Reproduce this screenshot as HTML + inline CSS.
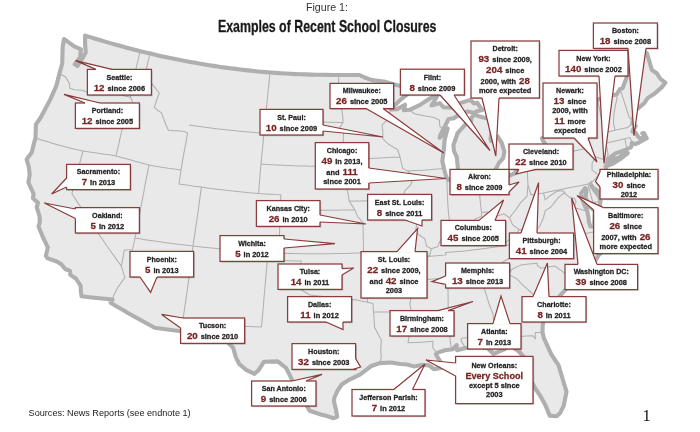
<!DOCTYPE html>
<html><head><meta charset="utf-8"><title>Figure 1</title>
<style>html,body{margin:0;padding:0;background:#fff}svg{display:block}</style></head>
<body>
<svg width="700" height="432" viewBox="0 0 700 432" font-family="Liberation Sans, sans-serif" font-weight="bold">
<defs><filter id="soft" x="0" y="0" width="700" height="432" filterUnits="userSpaceOnUse"><feGaussianBlur stdDeviation="0.35"/></filter></defs>
<rect width="700" height="432" fill="#fff"/>
<g filter="url(#soft)">
<path d="M85.0,35.5 L90.1,37.1 L95.4,38.7 L100.6,40.3 L105.9,41.9 L111.2,43.4 L116.0,44.8 L120.9,46.1 L125.8,47.4 L130.7,48.7 L135.6,50.0 L140.5,51.2 L145.5,52.4 L150.4,53.6 L155.4,54.8 L160.3,55.9 L165.3,57.0 L170.2,58.0 L175.2,59.1 L180.2,60.1 L185.2,61.0 L190.2,61.9 L195.2,62.8 L200.2,63.7 L205.2,64.5 L210.2,65.4 L215.3,66.1 L220.3,66.9 L225.3,67.6 L230.3,68.2 L235.4,68.9 L240.4,69.5 L245.4,70.1 L250.4,70.6 L255.5,71.2 L260.5,71.7 L265.5,72.1 L270.5,72.5 L275.5,72.9 L280.5,73.2 L285.5,73.5 L290.5,73.8 L295.5,74.1 L300.5,74.3 L305.5,74.4 L310.5,74.6 L315.5,74.7 L320.5,74.8 L326.5,74.9 L332.6,75.0 L338.6,75.0 L343.8,75.0 L349.0,75.0 L354.2,75.0 L359.4,75.0 L364.0,77.2 L372.1,80.1 L377.3,80.7 L385.7,81.9 L391.5,83.6 L397.3,85.2 L405.4,87.0 L411.6,87.3 L417.9,87.5 L410.4,92.0 L400.6,99.6 L395.6,104.5 L390.6,108.7 L391.7,109.4 L397.2,109.1 L405.0,104.7 L403.9,110.2 L409.5,109.8 L419.6,105.1 L429.4,98.8 L438.1,94.0 L436.1,98.1 L433.0,103.0 L431.5,105.5 L439.8,103.1 L443.5,107.2 L452.1,107.7 L460.1,103.1 L470.4,99.9 L474.1,103.4 L477.4,102.8 L480.9,108.3 L482.2,110.0 L476.2,111.5 L474.4,113.1 L467.8,111.5 L460.1,114.2 L453.7,118.3 L448.6,119.0 L446.1,124.0 L443.1,129.7 L440.5,134.6 L439.6,137.8 L444.0,133.5 L447.7,128.4 L446.3,133.2 L444.6,140.3 L443.8,150.2 L442.3,160.8 L444.0,168.5 L446.2,176.9 L447.9,179.4 L449.7,179.9 L453.3,178.9 L455.7,177.2 L456.8,172.4 L457.9,168.1 L456.7,156.8 L454.0,151.2 L453.4,145.3 L455.7,138.8 L457.5,133.2 L461.6,128.7 L464.7,125.1 L468.4,123.0 L471.1,121.0 L471.3,117.8 L474.5,114.5 L477.8,115.9 L484.3,117.7 L488.8,118.4 L490.6,123.4 L492.3,129.2 L491.2,134.9 L490.5,138.9 L491.2,141.1 L495.5,137.8 L497.6,136.3 L501.6,142.7 L504.4,151.6 L503.2,158.1 L498.9,162.9 L496.9,167.1 L495.3,169.7 L493.6,173.7 L498.9,174.5 L502.4,176.3 L506.9,176.5 L513.7,173.9 L518.7,168.7 L527.4,162.9 L532.3,158.3 L536.1,154.4 L542.1,149.0 L545.1,145.2 L544.8,143.2 L542.6,140.3 L542.0,138.0 L548.0,135.0 L557.9,134.1 L562.3,134.0 L567.4,131.4 L569.2,129.4 L571.9,126.7 L571.4,121.5 L568.8,119.7 L572.7,115.2 L576.3,109.1 L582.6,103.2 L589.9,101.4 L597.3,99.6 L603.8,97.9 L610.3,96.1 L616.8,94.3 L620.1,88.9 L622.6,88.2 L626.5,77.7 L626.6,69.9 L625.9,65.4 L630.8,52.1 L635.1,54.8 L640.5,50.8 L646.9,53.2 L649.4,61.6 L651.9,70.0 L656.7,73.2 L660.1,78.5 L665.4,82.8 L661.7,87.4 L654.4,93.7 L647.6,98.1 L644.4,103.0 L641.6,105.4 L635.5,110.4 L633.6,116.4 L633.0,120.5 L632.4,123.4 L635.7,126.0 L633.5,128.9 L632.5,131.6 L635.8,133.0 L637.9,136.4 L640.2,138.6 L645.6,136.6 L642.3,133.2 L644.0,133.1 L646.7,138.3 L639.4,142.3 L635.2,144.2 L631.8,142.8 L631.5,146.1 L630.7,147.5 L626.9,149.2 L623.2,150.6 L615.5,153.4 L608.0,159.2 L607.0,162.6 L611.2,160.0 L620.0,157.0 L623.2,153.0 L627.8,153.1 L621.4,158.2 L613.2,163.5 L606.7,166.2 L605.5,166.2 L605.9,168.1 L606.9,175.3 L605.2,186.0 L600.4,193.7 L597.0,190.2 L592.1,187.4 L591.1,185.2 L593.8,189.4 L598.9,196.1 L600.6,201.2 L598.8,210.1 L594.2,223.5 L594.7,211.0 L588.6,205.9 L585.6,197.2 L586.5,189.3 L585.0,188.1 L581.1,193.5 L582.3,199.4 L585.1,206.6 L587.2,210.8 L588.4,216.8 L588.9,222.1 L590.4,226.5 L594.2,226.6 L596.9,231.4 L603.1,241.7 L605.0,249.8 L598.8,255.0 L594.5,262.2 L588.8,262.5 L580.2,271.3 L579.3,277.0 L571.8,278.4 L565.4,289.9 L557.6,298.3 L551.9,303.2 L546.5,311.1 L542.7,324.8 L542.5,332.4 L544.0,338.4 L547.7,346.3 L551.3,354.3 L558.5,365.2 L562.8,379.5 L566.5,391.7 L563.8,405.3 L560.2,413.0 L556.5,416.2 L549.7,415.6 L545.3,404.9 L540.7,396.5 L535.7,389.1 L531.0,380.7 L528.1,375.2 L528.6,370.8 L524.9,358.1 L518.9,351.5 L510.2,345.4 L505.2,348.8 L493.6,354.0 L487.7,348.2 L476.8,346.0 L470.2,347.3 L463.6,348.6 L457.1,350.2 L456.6,345.0 L453.0,349.2 L445.0,350.2 L438.5,352.4 L435.9,354.1 L437.5,357.0 L440.5,361.9 L441.5,367.8 L434.2,369.2 L428.6,365.3 L421.8,365.1 L413.8,366.4 L407.0,364.5 L400.3,364.0 L390.9,362.5 L379.7,363.1 L371.3,366.0 L367.5,368.9 L359.9,374.6 L349.5,379.6 L341.7,384.5 L337.7,390.3 L334.4,397.5 L334.0,401.7 L335.8,408.9 L337.1,416.1 L337.1,416.8 L333.6,418.2 L325.2,415.5 L321.6,414.8 L309.6,410.8 L304.9,402.2 L304.4,395.0 L294.9,385.0 L291.0,377.7 L286.1,368.0 L277.7,361.4 L270.9,361.6 L264.1,361.7 L258.4,370.4 L254.5,373.8 L246.1,369.9 L239.2,364.0 L235.7,356.9 L233.0,347.4 L225.9,340.7 L221.4,334.1 L215.2,327.7 L207.8,327.1 L200.4,326.4 L193.1,325.6 L192.0,332.4 L184.5,331.6 L177.0,330.7 L169.5,329.7 L162.1,328.8 L154.7,327.8 L148.3,324.3 L141.9,320.8 L135.5,317.2 L129.2,313.7 L123.0,310.1 L116.8,306.4 L110.6,302.7 L112.5,299.6 L104.8,298.8 L97.0,298.0 L89.3,297.2 L81.5,296.3 L80.9,291.2 L80.6,285.7 L75.9,278.5 L70.3,274.9 L70.0,270.9 L65.2,269.0 L61.3,264.2 L56.8,261.5 L47.8,258.4 L45.9,255.9 L47.8,247.4 L43.4,238.2 L38.5,226.5 L39.8,222.1 L39.6,216.5 L36.7,207.1 L38.0,202.8 L33.0,198.2 L33.6,193.8 L28.4,182.5 L29.7,174.6 L28.8,166.8 L26.6,159.4 L31.7,152.5 L34.4,141.6 L35.5,138.0 L35.9,124.4 L40.7,117.5 L45.5,108.5 L50.3,99.4 L56.3,85.9 L59.3,73.9 L62.2,63.7 L62.4,56.9 L62.7,46.7 L64.0,39.0 L69.1,42.6 L74.2,46.3 L81.0,49.3 L80.1,57.4 L74.8,64.3 L77.5,66.0 L82.5,58.2 L85.7,52.4 L85.1,43.9 L85.0,35.5Z" fill="#e9e9e9" stroke="#afafaf" stroke-width="4.1" stroke-linejoin="round"/>
<path d="M59.8,74.1 L65.4,76.7 L69.7,84.0 L69.5,88.2 L74.6,89.7 L82.2,90.2 L90.2,93.2 L96.4,92.7 L102.6,92.2 L109.1,92.2 L114.5,93.5 L119.9,94.8 L125.2,96.1 L130.6,97.3 M140.2,51.2 L138.3,59.0 L136.4,66.9 L134.6,74.8 L132.7,82.7 L130.9,90.6 L130.6,97.3 M130.6,97.3 L133.6,104.4 L127.9,112.7 L122.5,119.3 L124.0,125.1 L121.9,130.1 L119.9,138.8 L118.0,147.4 L116.0,156.0 M35.5,138.0 L41.6,140.0 L47.8,141.8 L54.0,143.7 L60.3,145.5 L66.0,147.0 L71.7,148.5 L77.3,149.8 L83.0,151.0 L89.6,152.1 L96.3,153.0 L102.8,153.9 L109.4,154.8 L116.0,156.0 L122.6,157.7 L129.3,159.5 L135.9,161.5 L142.5,163.3 L149.0,165.0 L155.4,166.3 L161.8,167.3 L168.2,168.3 L174.6,169.1 L181.0,170.0 M83.0,151.0 L81.1,158.2 L79.2,165.3 L77.4,172.4 L75.5,179.5 L73.7,186.6 L71.9,193.7 L76.6,200.9 L81.4,208.2 L86.3,215.5 L91.2,222.9 L96.1,230.2 L101.1,237.5 L106.1,244.8 L111.2,252.0 L116.3,259.1 L121.4,266.2 M149.0,165.0 L147.6,172.1 L146.2,179.2 L144.8,186.4 L143.5,193.6 L142.1,200.9 L140.7,208.2 L139.3,215.7 L137.9,223.1 L136.5,230.6 L135.0,238.0 L132.5,249.8 L124.3,249.9 L122.9,258.1 L121.4,266.2 M121.4,266.2 L124.9,277.6 L118.0,287.1 L113.7,295.5 L112.5,299.6 M135.0,238.0 L140.9,239.0 L146.7,239.9 L152.6,240.8 L158.4,241.6 L164.2,242.4 L170.1,243.2 L177.6,244.2 L185.3,245.1 L193.0,246.0 L199.2,246.7 L205.5,247.4 L211.8,248.0 L218.2,248.7 L224.5,249.3 L230.9,249.8 L237.2,250.4 L243.4,250.8 L249.6,251.3 L255.8,251.7 L261.9,252.1 L267.9,252.5 L279.0,253.0 L284.6,253.2 L290.1,253.4 L295.6,253.6 L301.1,253.7 L306.7,253.8 L312.5,253.8 L318.1,253.8 L323.9,253.8 L329.6,253.7 L335.4,253.6 L341.3,253.5 L347.2,253.4 L355.3,253.1 L363.6,252.8 M181.0,170.0 L180.0,177.0 L179.0,184.0 L184.5,184.8 L190.1,185.6 L195.7,186.4 L201.4,187.1 M201.4,187.1 L200.4,194.4 L199.4,201.6 L198.4,209.0 L197.4,216.3 L196.3,223.7 L195.2,231.1 L194.1,238.6 L193.0,246.0 L192.0,253.7 L191.0,261.4 L190.1,269.1 L189.1,276.9 L188.0,284.6 L187.0,292.3 L185.8,300.1 L184.7,307.9 L183.5,315.6 L182.2,323.4 L181.0,331.2 M149.9,53.5 L148.2,61.1 L146.4,68.8 L148.9,74.2 L147.4,78.7 L154.3,86.6 L159.3,93.3 L157.2,98.5 L154.3,107.5 L158.5,110.8 L161.4,112.9 L165.7,124.2 L168.4,130.3 L175.7,130.8 L183.0,131.2 L187.6,132.7 M187.6,132.7 L186.3,140.3 L184.9,147.9 L183.5,155.4 L182.2,162.8 L181.0,170.0 M189.0,125.0 L194.4,125.8 L199.8,126.6 L205.2,127.3 L210.7,128.0 L216.1,128.7 L221.6,129.3 L227.6,130.0 L233.7,130.6 L239.8,131.2 L245.9,131.8 L251.9,132.3 L258.0,132.7 L264.0,133.2 M270.0,72.5 L269.2,80.1 L268.5,87.7 L267.7,95.3 L267.0,102.8 L266.2,110.4 L265.5,118.0 L264.7,125.6 L264.0,133.2 L263.2,140.9 L262.5,148.7 L261.7,156.4 L261.0,164.0 L260.3,171.5 L259.7,178.9 L259.1,186.2 L258.6,193.5 M201.4,187.1 L207.2,187.9 L213.0,188.7 L218.9,189.4 L224.7,190.1 L230.6,190.8 L237.6,191.5 L244.7,192.2 L251.7,192.9 L258.6,193.5 L264.2,193.9 L269.8,194.2 L275.4,194.6 L280.9,194.8 M280.9,194.8 L280.6,202.1 L280.3,209.4 L280.0,216.6 L279.8,223.9 L279.6,231.2 L279.4,238.4 L279.3,245.7 L279.0,253.0 M280.3,209.4 L285.9,209.6 L291.5,209.8 L297.1,210.0 L302.6,210.1 L308.1,210.2 L313.7,210.3 L319.1,210.3 L324.6,210.3 L330.1,210.3 L335.6,210.2 L341.9,210.1 L348.3,209.9 L354.7,209.7 M267.9,252.5 L267.4,259.8 L266.7,267.1 L266.1,274.5 L265.4,281.9 L264.8,289.3 L264.1,296.8 L263.5,304.3 L262.9,311.8 L262.2,319.4 L261.4,327.0 L254.8,326.8 L248.1,326.5 L241.4,326.1 L234.7,325.7 L227.9,325.3 L221.2,324.8 L214.5,324.3 L215.2,327.7 M267.4,259.8 L273.3,260.1 L279.1,260.3 L284.7,260.6 L290.1,260.7 L295.5,260.9 L301.0,261.0 L300.8,270.5 L300.7,280.0 L300.6,289.5 L309.9,295.0 L316.4,295.7 L323.0,296.4 L333.8,299.3 L343.6,302.1 L354.6,299.6 L360.9,300.9 L367.4,302.2 L373.0,303.6 M265.4,118.9 L270.7,119.3 L276.0,119.7 L281.2,120.1 L286.5,120.4 L291.7,120.8 L296.9,121.1 L302.2,121.3 L307.4,121.6 L313.3,121.8 L319.2,122.0 L325.2,122.2 L331.1,122.3 L337.1,122.4 L343.0,122.4 M261.0,164.0 L266.6,164.4 L272.1,164.7 L277.6,165.0 L283.1,165.3 L288.5,165.5 L294.0,165.7 L299.3,165.9 L304.6,166.1 L309.9,166.2 L315.2,166.3 L320.5,166.4 L326.7,170.1 L334.2,168.7 L341.5,173.7 M338.6,75.0 L338.7,82.7 L338.9,90.5 L340.1,98.3 L341.3,106.1 L342.8,116.9 L343.0,122.4 L339.7,127.6 L343.6,132.1 L343.2,141.1 L342.8,150.1 L342.4,159.0 L342.3,164.9 L341.5,173.7 M342.4,159.0 L348.9,158.9 L355.4,158.8 L362.0,158.6 L368.6,158.4 L374.7,158.2 L380.8,157.9 L387.1,157.6 L393.4,157.3 L400.0,157.0 M341.5,173.7 L344.6,181.0 L346.7,188.2 L348.4,195.4 L349.3,201.2 L354.7,209.7 L357.7,216.8 L363.0,222.4 L363.1,230.0 L363.3,237.6 L363.4,245.2 L363.6,252.8 L363.8,260.1 M349.3,201.2 L355.7,201.1 L362.1,200.9 L368.6,200.7 L375.1,200.5 L382.0,200.0 L389.0,199.5 L396.0,199.0 L400.2,201.6 M363.8,260.1 L370.2,259.9 L376.6,259.6 L383.1,259.4 L389.6,259.1 L396.1,258.7 L403.8,258.3 L411.6,257.8 L419.3,257.2 L417.5,264.9 L425.7,264.3 M363.8,260.1 L365.3,268.1 L366.8,276.2 L366.9,284.8 L367.1,293.5 L367.4,302.2 M373.0,303.6 L373.5,312.0 L380.9,311.9 L388.3,311.9 L395.8,311.7 L403.4,311.6 L410.9,311.3 M373.5,312.0 L374.1,319.8 L374.6,327.6 L381.3,340.1 L380.7,349.4 L381.3,357.1 L379.7,363.1 M390.6,109.4 L388.2,118.7 L382.0,125.1 L382.9,131.1 L382.7,138.6 L388.7,144.3 L397.8,149.8 L400.0,157.0 L402.7,168.5 L407.8,171.1 L414.4,176.4 L410.4,185.1 L404.5,191.2 L403.7,198.4 L400.2,201.6 L399.9,208.8 L405.8,215.5 L409.8,221.0 L416.8,223.4 L415.5,232.3 L424.8,238.9 L426.6,246.2 L431.3,248.7 M431.3,248.7 L429.9,254.9 L427.5,256.6 L425.7,264.3 L423.2,272.1 L420.7,279.9 L416.9,287.8 L411.8,295.7 L409.8,303.5 L411.2,311.3 L414.9,322.1 L409.4,334.9 L408.0,342.8 L416.4,342.4 L424.7,341.9 L433.0,341.3 L432.7,347.5 L437.2,353.3 M407.8,171.1 L415.0,170.6 L422.3,170.2 L429.6,169.7 L436.9,169.1 L444.0,168.5 M409.5,110.5 L415.3,114.0 L425.7,116.1 L433.9,117.6 L439.4,120.1 L439.8,126.2 L443.1,129.7 M447.0,178.0 L447.1,186.4 L447.4,195.0 L447.8,203.6 L448.4,212.3 L449.4,220.2 L444.6,229.6 L443.9,235.6 M478.5,175.6 L478.9,183.0 L479.3,190.4 L479.9,197.6 L480.6,204.9 L481.5,212.2 M450.9,177.6 L458.0,176.9 L464.9,176.2 L471.7,175.5 L478.5,174.7 L478.5,175.6 L486.1,174.7 L493.6,173.7 M528.0,185.0 L527.6,188.7 L527.1,196.2 L520.4,202.9 L516.1,209.3 L509.5,217.8 L503.8,213.8 L496.2,216.5 L487.6,212.1 L481.5,212.2 L481.5,216.5 L475.1,218.8 L471.6,225.8 L467.7,229.9 L461.7,232.1 L451.8,232.5 L443.9,235.6 L439.5,242.0 L438.0,246.6 L431.3,248.7 M527.1,157.1 L527.4,166.5 L527.5,176.2 L528.0,185.0 L531.0,195.0 M531.0,195.0 L537.2,194.0 L543.5,192.9 L551.6,191.3 L559.7,189.7 L567.7,188.1 L574.5,186.8 L581.3,185.4 L587.9,184.0 L591.5,181.5 L592.0,181.9 M587.9,184.0 L590.4,193.3 L592.9,202.6 L600.6,201.2 M536.2,154.9 L536.5,159.3 L542.9,157.7 L549.2,156.2 L555.4,154.9 L561.6,153.6 L567.8,152.3 L573.9,151.1 L579.9,149.8 L586.0,148.5 L589.2,150.2 L595.2,156.7 L605.2,159.9 M595.2,156.7 L592.0,163.8 L592.1,170.1 L598.5,174.9 L594.7,179.7 L592.0,181.9 L591.1,185.2 M427.5,256.6 L436.7,255.8 L445.9,254.9 L445.6,252.6 L452.1,252.1 L458.7,251.5 L465.2,250.9 L472.2,250.1 L479.3,249.2 L486.3,248.3 L493.4,247.3 L500.4,246.3 L508.6,245.0 L516.9,243.6 L525.1,242.3 L532.2,241.3 L539.2,240.5 L546.3,239.6 L552.5,238.6 L558.7,237.7 L564.8,236.7 L571.0,235.8 L577.5,234.8 L584.0,233.7 L590.4,232.6 L596.9,231.4 M419.4,279.9 L426.2,279.5 L433.0,279.0 L439.7,278.4 L446.5,277.8 L453.1,277.1 L459.8,276.4 L466.5,275.6 L473.1,274.8 L479.7,273.9 L487.9,272.9 L496.0,271.7 L503.7,270.6 L511.5,269.5 M525.1,242.3 L520.1,250.9 L514.1,253.4 L509.7,258.0 L502.6,262.2 L498.2,267.5 L496.0,271.7 M446.5,277.8 L447.9,279.2 L448.0,288.4 L448.1,297.8 L448.2,307.1 L448.3,316.5 L448.9,324.2 L449.5,332.0 L450.1,339.6 L451.8,350.9 M479.7,273.9 L482.1,281.4 L484.4,288.9 L487.0,297.1 L489.5,305.3 L493.1,314.1 L493.8,324.8 L495.5,333.6 L497.8,337.8 M461.3,338.3 L468.2,337.4 L475.0,336.4 L481.8,335.5 L488.7,334.6 L495.5,333.6 M461.3,338.3 L461.1,340.6 L464.8,346.9 L463.6,348.6 M497.8,337.8 L505.2,337.4 L512.5,336.9 L519.8,336.5 L526.4,336.1 L533.0,335.8 L535.4,338.5 L535.2,332.5 L542.5,332.4 M511.5,269.5 L509.0,274.6 L516.8,278.9 L523.0,285.2 L530.5,292.0 L536.6,297.5 L538.8,303.5 L546.5,311.1 M511.5,269.5 L521.1,264.9 L529.0,264.1 L536.9,263.2 L537.3,265.5 L541.0,268.2 L547.9,267.1 L554.8,266.0 L563.3,272.2 L571.8,278.4 M500.4,246.3 L507.1,241.4 L516.1,234.5 L519.1,229.4 L529.6,231.4 L537.9,228.4 L540.0,225.8 L543.5,217.5 L545.3,210.5 L550.3,207.5 L553.8,203.4 L558.3,197.6 L564.2,192.8 L566.0,194.4 M519.1,229.4 L512.5,224.6 L509.5,217.8 M543.5,192.9 L545.1,199.7 L550.8,195.3 L557.0,191.3 L563.2,190.8 L566.0,194.4 L570.2,197.7 L574.7,198.5 L576.1,202.0 L574.1,207.7 L579.4,209.1 L587.9,211.5 M597.3,99.6 L599.1,106.9 L601.8,120.1 L603.4,119.7 L606.2,132.2 L606.1,143.1 L608.1,154.4 L607.1,157.8 L608.0,159.2 M616.8,94.3 L616.9,99.1 L615.6,104.9 L613.9,113.9 L613.5,123.4 L615.1,130.3 M620.1,88.9 L623.1,98.2 L626.0,107.5 L629.3,117.6 L633.0,120.5 M606.2,132.2 L615.1,130.3 L621.5,128.8 L627.8,127.4 L632.4,123.4 M606.1,143.1 L612.4,141.7 L618.6,140.2 L624.9,138.7 L629.6,137.6 L634.4,144.5 M624.9,138.7 L626.9,149.2" fill="none" stroke="#b0b0b0" stroke-width="1.05"/>
<rect x="88.6" y="70.6" width="64.0" height="25.6" fill="#000" opacity=".22"/>
<rect x="87.4" y="69.4" width="64.0" height="25.6" fill="#fff" stroke="#8a3a3a" stroke-width="1.25"/>
<polygon points="96.0,70.6 96.0,69.4 75.6,60.6 112.0,69.4 112.0,70.6" fill="#fff"/>
<polyline points="96.0,69.4 75.6,60.6 112.0,69.4" fill="none" stroke="#8a3a3a" stroke-width="1.2" stroke-linejoin="miter"/>
<text transform="translate(106.49,79.6) scale(1.0,1)" font-size="7.15" fill="#262223" stroke="#262223" stroke-width="0.26" xml:space="preserve">Seattle:</text>
<text transform="translate(93.69,90.6) scale(1.07,1)" font-size="9.1" fill="#7a2424" stroke="#7a2424" stroke-width="0.26" xml:space="preserve">12</text>
<text transform="translate(105.42,90.6) scale(1.04,1)" font-size="7.15" fill="#262223" stroke="#262223" stroke-width="0.26" xml:space="preserve"> since 2006</text>
<rect x="76.6" y="104.2" width="64.0" height="25.4" fill="#000" opacity=".22"/>
<rect x="75.4" y="103.0" width="64.0" height="25.4" fill="#fff" stroke="#8a3a3a" stroke-width="1.25"/>
<polygon points="85.0,104.2 85.0,103.0 64.0,94.4 100.0,103.0 100.0,104.2" fill="#fff"/>
<polyline points="85.0,103.0 64.0,94.4 100.0,103.0" fill="none" stroke="#8a3a3a" stroke-width="1.2" stroke-linejoin="miter"/>
<text transform="translate(91.71,113.1) scale(1.0,1)" font-size="7.15" fill="#262223" stroke="#262223" stroke-width="0.26" xml:space="preserve">Portland:</text>
<text transform="translate(81.69,124.1) scale(1.07,1)" font-size="9.1" fill="#7a2424" stroke="#7a2424" stroke-width="0.26" xml:space="preserve">12</text>
<text transform="translate(93.42,124.1) scale(1.04,1)" font-size="7.15" fill="#262223" stroke="#262223" stroke-width="0.26" xml:space="preserve"> since 2005</text>
<rect x="67.8" y="165.6" width="63.8" height="25.2" fill="#000" opacity=".22"/>
<rect x="66.6" y="164.4" width="63.8" height="25.2" fill="#fff" stroke="#8a3a3a" stroke-width="1.25"/>
<polygon points="67.8,178.0 66.6,178.0 51.6,194.0 66.6,187.0 67.8,187.0" fill="#fff"/>
<polyline points="66.6,178.0 51.6,194.0 66.6,187.0" fill="none" stroke="#8a3a3a" stroke-width="1.2" stroke-linejoin="miter"/>
<text transform="translate(76.84,174.4) scale(1.0,1)" font-size="7.15" fill="#262223" stroke="#262223" stroke-width="0.26" xml:space="preserve">Sacramento:</text>
<text transform="translate(81.70,185.4) scale(1.07,1)" font-size="9.1" fill="#7a2424" stroke="#7a2424" stroke-width="0.26" xml:space="preserve">7</text>
<text transform="translate(88.02,185.4) scale(1.04,1)" font-size="7.15" fill="#262223" stroke="#262223" stroke-width="0.26" xml:space="preserve"> in 2013</text>
<rect x="76.6" y="208.8" width="64.0" height="25.4" fill="#000" opacity=".22"/>
<rect x="75.4" y="207.6" width="64.0" height="25.4" fill="#fff" stroke="#8a3a3a" stroke-width="1.25"/>
<polygon points="76.6,209.0 75.4,209.0 44.4,203.0 75.4,218.5 76.6,218.5" fill="#fff"/>
<polyline points="75.4,209.0 44.4,203.0 75.4,218.5" fill="none" stroke="#8a3a3a" stroke-width="1.2" stroke-linejoin="miter"/>
<text transform="translate(92.10,217.7) scale(1.0,1)" font-size="7.15" fill="#262223" stroke="#262223" stroke-width="0.26" xml:space="preserve">Oakland:</text>
<text transform="translate(90.60,228.7) scale(1.07,1)" font-size="9.1" fill="#7a2424" stroke="#7a2424" stroke-width="0.26" xml:space="preserve">5</text>
<text transform="translate(96.92,228.7) scale(1.04,1)" font-size="7.15" fill="#262223" stroke="#262223" stroke-width="0.26" xml:space="preserve"> in 2012</text>
<rect x="131.2" y="252.6" width="63.6" height="25.6" fill="#000" opacity=".22"/>
<rect x="130.0" y="251.4" width="63.6" height="25.6" fill="#fff" stroke="#8a3a3a" stroke-width="1.25"/>
<polygon points="140.0,275.8 140.0,277.0 150.6,292.4 157.0,277.0 157.0,275.8" fill="#fff"/>
<polyline points="140.0,277.0 150.6,292.4 157.0,277.0" fill="none" stroke="#8a3a3a" stroke-width="1.2" stroke-linejoin="miter"/>
<text transform="translate(146.71,261.6) scale(1.0,1)" font-size="7.15" fill="#262223" stroke="#262223" stroke-width="0.26" xml:space="preserve">Phoenix:</text>
<text transform="translate(145.00,272.6) scale(1.07,1)" font-size="9.1" fill="#7a2424" stroke="#7a2424" stroke-width="0.26" xml:space="preserve">5</text>
<text transform="translate(151.32,272.6) scale(1.04,1)" font-size="7.15" fill="#262223" stroke="#262223" stroke-width="0.26" xml:space="preserve"> in 2013</text>
<rect x="181.8" y="319.2" width="64.0" height="25.4" fill="#000" opacity=".22"/>
<rect x="180.6" y="318.0" width="64.0" height="25.4" fill="#fff" stroke="#8a3a3a" stroke-width="1.25"/>
<polygon points="183.0,319.2 183.0,318.0 161.6,314.4 180.6,328.0 181.8,328.0" fill="#fff"/>
<polyline points="183.0,318.0 161.6,314.4 180.6,328.0" fill="none" stroke="#8a3a3a" stroke-width="1.2" stroke-linejoin="miter"/>
<text transform="translate(198.96,328.1) scale(1.0,1)" font-size="7.15" fill="#262223" stroke="#262223" stroke-width="0.26" xml:space="preserve">Tucson:</text>
<text transform="translate(186.89,339.1) scale(1.07,1)" font-size="9.1" fill="#7a2424" stroke="#7a2424" stroke-width="0.26" xml:space="preserve">20</text>
<text transform="translate(198.62,339.1) scale(1.04,1)" font-size="7.15" fill="#262223" stroke="#262223" stroke-width="0.26" xml:space="preserve"> since 2010</text>
<rect x="261.2" y="110.6" width="63.0" height="25.6" fill="#000" opacity=".22"/>
<rect x="260.0" y="109.4" width="63.0" height="25.6" fill="#fff" stroke="#8a3a3a" stroke-width="1.25"/>
<polygon points="321.8,125.0 323.0,125.0 383.0,137.0 323.0,131.0 321.8,131.0" fill="#fff"/>
<polyline points="323.0,125.0 383.0,137.0 323.0,131.0" fill="none" stroke="#8a3a3a" stroke-width="1.2" stroke-linejoin="miter"/>
<text transform="translate(277.20,119.6) scale(1.0,1)" font-size="7.15" fill="#262223" stroke="#262223" stroke-width="0.26" xml:space="preserve">St. Paul:</text>
<text transform="translate(265.79,130.6) scale(1.07,1)" font-size="9.1" fill="#7a2424" stroke="#7a2424" stroke-width="0.26" xml:space="preserve">10</text>
<text transform="translate(277.52,130.6) scale(1.04,1)" font-size="7.15" fill="#262223" stroke="#262223" stroke-width="0.26" xml:space="preserve"> since 2009</text>
<rect x="316.5" y="143.8" width="53.5" height="46.4" fill="#000" opacity=".22"/>
<rect x="315.3" y="142.6" width="53.5" height="46.4" fill="#fff" stroke="#8a3a3a" stroke-width="1.25"/>
<polygon points="367.6,168.0 368.8,168.0 446.2,178.5 368.8,183.0 367.6,183.0" fill="#fff"/>
<polyline points="368.8,168.0 446.2,178.5 368.8,183.0" fill="none" stroke="#8a3a3a" stroke-width="1.2" stroke-linejoin="miter"/>
<text transform="translate(326.76,153.2) scale(1.0,1)" font-size="7.15" fill="#262223" stroke="#262223" stroke-width="0.26" xml:space="preserve">Chicago:</text>
<text transform="translate(321.51,164.2) scale(1.07,1)" font-size="9.1" fill="#7a2424" stroke="#7a2424" stroke-width="0.26" xml:space="preserve">49</text>
<text transform="translate(333.24,164.2) scale(1.04,1)" font-size="7.15" fill="#262223" stroke="#262223" stroke-width="0.26" xml:space="preserve"> in 2013,</text>
<text transform="translate(326.37,175.2) scale(1.04,1)" font-size="7.15" fill="#262223" stroke="#262223" stroke-width="0.26" xml:space="preserve">and </text>
<text transform="translate(342.56,175.2) scale(1.07,1)" font-size="9.1" fill="#7a2424" stroke="#7a2424" stroke-width="0.26" xml:space="preserve">111</text>
<text transform="translate(323.24,184.2) scale(1.04,1)" font-size="7.15" fill="#262223" stroke="#262223" stroke-width="0.26" xml:space="preserve">since 2001</text>
<rect x="257.6" y="201.8" width="63.6" height="25.8" fill="#000" opacity=".22"/>
<rect x="256.4" y="200.6" width="63.6" height="25.8" fill="#fff" stroke="#8a3a3a" stroke-width="1.25"/>
<polygon points="318.8,215.0 320.0,215.0 366.0,224.0 320.0,222.0 318.8,222.0" fill="#fff"/>
<polyline points="320.0,215.0 366.0,224.0 320.0,222.0" fill="none" stroke="#8a3a3a" stroke-width="1.2" stroke-linejoin="miter"/>
<text transform="translate(266.55,210.9) scale(1.0,1)" font-size="7.15" fill="#262223" stroke="#262223" stroke-width="0.26" xml:space="preserve">Kansas City:</text>
<text transform="translate(268.70,221.9) scale(1.07,1)" font-size="9.1" fill="#7a2424" stroke="#7a2424" stroke-width="0.26" xml:space="preserve">26</text>
<text transform="translate(280.42,221.9) scale(1.04,1)" font-size="7.15" fill="#262223" stroke="#262223" stroke-width="0.26" xml:space="preserve"> in 2010</text>
<rect x="221.2" y="236.8" width="64.0" height="25.8" fill="#000" opacity=".22"/>
<rect x="220.0" y="235.6" width="64.0" height="25.8" fill="#fff" stroke="#8a3a3a" stroke-width="1.25"/>
<polygon points="282.8,239.0 284.0,239.0 335.0,243.6 284.0,248.0 282.8,248.0" fill="#fff"/>
<polyline points="284.0,239.0 335.0,243.6 284.0,248.0" fill="none" stroke="#8a3a3a" stroke-width="1.2" stroke-linejoin="miter"/>
<text transform="translate(238.13,245.9) scale(1.0,1)" font-size="7.15" fill="#262223" stroke="#262223" stroke-width="0.26" xml:space="preserve">Wichita:</text>
<text transform="translate(235.20,256.9) scale(1.07,1)" font-size="9.1" fill="#7a2424" stroke="#7a2424" stroke-width="0.26" xml:space="preserve">5</text>
<text transform="translate(241.52,256.9) scale(1.04,1)" font-size="7.15" fill="#262223" stroke="#262223" stroke-width="0.26" xml:space="preserve"> in 2012</text>
<rect x="279.2" y="265.2" width="64.0" height="25.4" fill="#000" opacity=".22"/>
<rect x="278.0" y="264.0" width="64.0" height="25.4" fill="#fff" stroke="#8a3a3a" stroke-width="1.25"/>
<polygon points="340.8,268.6 342.0,268.6 353.6,268.0 342.0,275.0 340.8,275.0" fill="#fff"/>
<polyline points="342.0,268.6 353.6,268.0 342.0,275.0" fill="none" stroke="#8a3a3a" stroke-width="1.2" stroke-linejoin="miter"/>
<text transform="translate(299.74,274.1) scale(1.0,1)" font-size="7.15" fill="#262223" stroke="#262223" stroke-width="0.26" xml:space="preserve">Tulsa:</text>
<text transform="translate(290.70,285.1) scale(1.07,1)" font-size="9.1" fill="#7a2424" stroke="#7a2424" stroke-width="0.26" xml:space="preserve">14</text>
<text transform="translate(302.43,285.1) scale(1.04,1)" font-size="7.15" fill="#262223" stroke="#262223" stroke-width="0.26" xml:space="preserve"> in 2011</text>
<rect x="288.8" y="297.8" width="64.0" height="25.4" fill="#000" opacity=".22"/>
<rect x="287.6" y="296.6" width="64.0" height="25.4" fill="#fff" stroke="#8a3a3a" stroke-width="1.25"/>
<polygon points="326.0,320.8 326.0,322.0 343.0,329.5 343.0,322.0 343.0,320.8" fill="#fff"/>
<polyline points="326.0,322.0 343.0,329.5 343.0,322.0" fill="none" stroke="#8a3a3a" stroke-width="1.2" stroke-linejoin="miter"/>
<text transform="translate(307.88,306.7) scale(1.0,1)" font-size="7.15" fill="#262223" stroke="#262223" stroke-width="0.26" xml:space="preserve">Dallas:</text>
<text transform="translate(300.36,317.7) scale(1.07,1)" font-size="9.1" fill="#7a2424" stroke="#7a2424" stroke-width="0.26" xml:space="preserve">11</text>
<text transform="translate(311.56,317.7) scale(1.04,1)" font-size="7.15" fill="#262223" stroke="#262223" stroke-width="0.26" xml:space="preserve"> in 2012</text>
<rect x="293.2" y="344.8" width="63.6" height="25.8" fill="#000" opacity=".22"/>
<rect x="292.0" y="343.6" width="63.6" height="25.8" fill="#fff" stroke="#8a3a3a" stroke-width="1.25"/>
<polygon points="354.4,358.6 355.6,358.6 360.6,367.0 353.0,369.4 353.0,368.2" fill="#fff"/>
<polyline points="355.6,358.6 360.6,367.0 353.0,369.4" fill="none" stroke="#8a3a3a" stroke-width="1.2" stroke-linejoin="miter"/>
<text transform="translate(308.12,353.9) scale(1.0,1)" font-size="7.15" fill="#262223" stroke="#262223" stroke-width="0.26" xml:space="preserve">Houston:</text>
<text transform="translate(298.09,364.9) scale(1.07,1)" font-size="9.1" fill="#7a2424" stroke="#7a2424" stroke-width="0.26" xml:space="preserve">32</text>
<text transform="translate(309.82,364.9) scale(1.04,1)" font-size="7.15" fill="#262223" stroke="#262223" stroke-width="0.26" xml:space="preserve"> since 2003</text>
<rect x="252.8" y="382.2" width="64.4" height="25.0" fill="#000" opacity=".22"/>
<rect x="251.6" y="381.0" width="64.4" height="25.0" fill="#fff" stroke="#8a3a3a" stroke-width="1.25"/>
<polygon points="292.0,382.2 292.0,381.0 322.0,374.4 306.0,381.0 306.0,382.2" fill="#fff"/>
<polyline points="292.0,381.0 322.0,374.4 306.0,381.0" fill="none" stroke="#8a3a3a" stroke-width="1.2" stroke-linejoin="miter"/>
<text transform="translate(261.69,390.9) scale(1.0,1)" font-size="7.15" fill="#262223" stroke="#262223" stroke-width="0.26" xml:space="preserve">San Antonio:</text>
<text transform="translate(260.80,401.9) scale(1.07,1)" font-size="9.1" fill="#7a2424" stroke="#7a2424" stroke-width="0.26" xml:space="preserve">9</text>
<text transform="translate(267.11,401.9) scale(1.04,1)" font-size="7.15" fill="#262223" stroke="#262223" stroke-width="0.26" xml:space="preserve"> since 2006</text>
<rect x="368.8" y="195.6" width="64.0" height="25.6" fill="#000" opacity=".22"/>
<rect x="367.6" y="194.4" width="64.0" height="25.6" fill="#fff" stroke="#8a3a3a" stroke-width="1.25"/>
<polygon points="405.0,218.8 405.0,220.0 422.0,226.0 422.0,220.0 422.0,218.8" fill="#fff"/>
<polyline points="405.0,220.0 422.0,226.0 422.0,220.0" fill="none" stroke="#8a3a3a" stroke-width="1.2" stroke-linejoin="miter"/>
<text transform="translate(374.77,204.6) scale(1.0,1)" font-size="7.15" fill="#262223" stroke="#262223" stroke-width="0.26" xml:space="preserve">East St. Louis:</text>
<text transform="translate(376.81,215.6) scale(1.07,1)" font-size="9.1" fill="#7a2424" stroke="#7a2424" stroke-width="0.26" xml:space="preserve">8</text>
<text transform="translate(383.12,215.6) scale(1.04,1)" font-size="7.15" fill="#262223" stroke="#262223" stroke-width="0.26" xml:space="preserve"> since 2011</text>
<rect x="362.2" y="252.8" width="66.0" height="46.4" fill="#000" opacity=".22"/>
<rect x="361.0" y="251.6" width="66.0" height="46.4" fill="#fff" stroke="#8a3a3a" stroke-width="1.25"/>
<polygon points="397.0,252.8 397.0,251.6 417.6,228.6 415.0,251.6 415.0,252.8" fill="#fff"/>
<polyline points="397.0,251.6 417.6,228.6 415.0,251.6" fill="none" stroke="#8a3a3a" stroke-width="1.2" stroke-linejoin="miter"/>
<text transform="translate(377.72,262.2) scale(1.0,1)" font-size="7.15" fill="#262223" stroke="#262223" stroke-width="0.26" xml:space="preserve">St. Louis:</text>
<text transform="translate(367.26,273.2) scale(1.07,1)" font-size="9.1" fill="#7a2424" stroke="#7a2424" stroke-width="0.26" xml:space="preserve">22</text>
<text transform="translate(378.99,273.2) scale(1.04,1)" font-size="7.15" fill="#262223" stroke="#262223" stroke-width="0.26" xml:space="preserve"> since 2009,</text>
<text transform="translate(369.50,284.2) scale(1.04,1)" font-size="7.15" fill="#262223" stroke="#262223" stroke-width="0.26" xml:space="preserve">and </text>
<text transform="translate(385.69,284.2) scale(1.07,1)" font-size="9.1" fill="#7a2424" stroke="#7a2424" stroke-width="0.26" xml:space="preserve">42</text>
<text transform="translate(397.42,284.2) scale(1.04,1)" font-size="7.15" fill="#262223" stroke="#262223" stroke-width="0.26" xml:space="preserve"> since</text>
<text transform="translate(385.73,293.2) scale(1.04,1)" font-size="7.15" fill="#262223" stroke="#262223" stroke-width="0.26" xml:space="preserve">2003</text>
<rect x="446.8" y="264.2" width="64.0" height="25.0" fill="#000" opacity=".22"/>
<rect x="445.6" y="263.0" width="64.0" height="25.0" fill="#fff" stroke="#8a3a3a" stroke-width="1.25"/>
<polygon points="446.8,276.0 445.6,276.0 432.0,281.6 445.6,284.4 446.8,284.4" fill="#fff"/>
<polyline points="445.6,276.0 432.0,281.6 445.6,284.4" fill="none" stroke="#8a3a3a" stroke-width="1.2" stroke-linejoin="miter"/>
<text transform="translate(460.92,272.9) scale(1.0,1)" font-size="7.15" fill="#262223" stroke="#262223" stroke-width="0.26" xml:space="preserve">Memphis:</text>
<text transform="translate(451.89,283.9) scale(1.07,1)" font-size="9.1" fill="#7a2424" stroke="#7a2424" stroke-width="0.26" xml:space="preserve">13</text>
<text transform="translate(463.62,283.9) scale(1.04,1)" font-size="7.15" fill="#262223" stroke="#262223" stroke-width="0.26" xml:space="preserve"> since 2013</text>
<rect x="391.2" y="311.8" width="64.0" height="25.4" fill="#000" opacity=".22"/>
<rect x="390.0" y="310.6" width="64.0" height="25.4" fill="#fff" stroke="#8a3a3a" stroke-width="1.25"/>
<polygon points="438.0,311.8 438.0,310.6 473.0,301.5 448.0,310.6 448.0,311.8" fill="#fff"/>
<polyline points="438.0,310.6 473.0,301.5 448.0,310.6" fill="none" stroke="#8a3a3a" stroke-width="1.2" stroke-linejoin="miter"/>
<text transform="translate(399.95,320.7) scale(1.0,1)" font-size="7.15" fill="#262223" stroke="#262223" stroke-width="0.26" xml:space="preserve">Birmingham:</text>
<text transform="translate(396.29,331.7) scale(1.07,1)" font-size="9.1" fill="#7a2424" stroke="#7a2424" stroke-width="0.26" xml:space="preserve">17</text>
<text transform="translate(408.02,331.7) scale(1.04,1)" font-size="7.15" fill="#262223" stroke="#262223" stroke-width="0.26" xml:space="preserve"> since 2008</text>
<rect x="468.8" y="324.8" width="53.4" height="25.4" fill="#000" opacity=".22"/>
<rect x="467.6" y="323.6" width="53.4" height="25.4" fill="#fff" stroke="#8a3a3a" stroke-width="1.25"/>
<polygon points="493.0,324.8 493.0,323.6 501.0,296.0 510.0,323.6 510.0,324.8" fill="#fff"/>
<polyline points="493.0,323.6 501.0,296.0 510.0,323.6" fill="none" stroke="#8a3a3a" stroke-width="1.2" stroke-linejoin="miter"/>
<text transform="translate(480.99,333.7) scale(1.0,1)" font-size="7.15" fill="#262223" stroke="#262223" stroke-width="0.26" xml:space="preserve">Atlanta:</text>
<text transform="translate(477.50,344.7) scale(1.07,1)" font-size="9.1" fill="#7a2424" stroke="#7a2424" stroke-width="0.26" xml:space="preserve">7</text>
<text transform="translate(483.82,344.7) scale(1.04,1)" font-size="7.15" fill="#262223" stroke="#262223" stroke-width="0.26" xml:space="preserve"> in 2013</text>
<rect x="353.2" y="390.7" width="73.0" height="26.5" fill="#000" opacity=".22"/>
<rect x="352.0" y="389.5" width="73.0" height="26.5" fill="#fff" stroke="#8a3a3a" stroke-width="1.25"/>
<polygon points="393.8,390.7 393.8,389.5 425.0,364.0 412.5,389.5 412.5,390.7" fill="#fff"/>
<polyline points="393.8,389.5 425.0,364.0 412.5,389.5" fill="none" stroke="#8a3a3a" stroke-width="1.2" stroke-linejoin="miter"/>
<text transform="translate(359.30,400.1) scale(1.0,1)" font-size="7.15" fill="#262223" stroke="#262223" stroke-width="0.26" xml:space="preserve">Jefferson Parish:</text>
<text transform="translate(371.70,411.1) scale(1.07,1)" font-size="9.1" fill="#7a2424" stroke="#7a2424" stroke-width="0.26" xml:space="preserve">7</text>
<text transform="translate(378.02,411.1) scale(1.04,1)" font-size="7.15" fill="#262223" stroke="#262223" stroke-width="0.26" xml:space="preserve"> in 2012</text>
<rect x="456.8" y="357.6" width="77.4" height="47.2" fill="#000" opacity=".22"/>
<rect x="455.6" y="356.4" width="77.4" height="47.2" fill="#fff" stroke="#8a3a3a" stroke-width="1.25"/>
<polygon points="456.8,363.0 455.6,363.0 426.0,360.0 455.6,376.0 456.8,376.0" fill="#fff"/>
<polyline points="455.6,363.0 426.0,360.0 455.6,376.0" fill="none" stroke="#8a3a3a" stroke-width="1.2" stroke-linejoin="miter"/>
<text transform="translate(471.45,368.4) scale(1.0,1)" font-size="7.15" fill="#262223" stroke="#262223" stroke-width="0.26" xml:space="preserve">New Orleans:</text>
<text transform="translate(465.43,379.4) scale(0.98,1)" font-size="9.3" fill="#7a2424" stroke="#7a2424" stroke-width="0.26" xml:space="preserve">Every School</text>
<text transform="translate(468.88,388.4) scale(1.04,1)" font-size="7.15" fill="#262223" stroke="#262223" stroke-width="0.26" xml:space="preserve">except 5 since</text>
<text transform="translate(486.03,397.4) scale(1.04,1)" font-size="7.15" fill="#262223" stroke="#262223" stroke-width="0.26" xml:space="preserve">2003</text>
<rect x="331.2" y="84.6" width="63.6" height="25.2" fill="#000" opacity=".22"/>
<rect x="330.0" y="83.4" width="63.6" height="25.2" fill="#fff" stroke="#8a3a3a" stroke-width="1.25"/>
<polygon points="366.0,107.4 366.0,108.6 443.8,153.0 383.0,108.6 383.0,107.4" fill="#fff"/>
<polyline points="366.0,108.6 443.8,153.0 383.0,108.6" fill="none" stroke="#8a3a3a" stroke-width="1.2" stroke-linejoin="miter"/>
<text transform="translate(342.73,93.4) scale(1.0,1)" font-size="7.15" fill="#262223" stroke="#262223" stroke-width="0.26" xml:space="preserve">Milwaukee:</text>
<text transform="translate(336.09,104.4) scale(1.07,1)" font-size="9.1" fill="#7a2424" stroke="#7a2424" stroke-width="0.26" xml:space="preserve">26</text>
<text transform="translate(347.82,104.4) scale(1.04,1)" font-size="7.15" fill="#262223" stroke="#262223" stroke-width="0.26" xml:space="preserve"> since 2005</text>
<rect x="401.6" y="70.4" width="64.0" height="25.8" fill="#000" opacity=".22"/>
<rect x="400.4" y="69.2" width="64.0" height="25.8" fill="#fff" stroke="#8a3a3a" stroke-width="1.25"/>
<polygon points="440.0,93.8 440.0,95.0 490.0,150.5 454.0,95.0 454.0,93.8" fill="#fff"/>
<polyline points="440.0,95.0 490.0,150.5 454.0,95.0" fill="none" stroke="#8a3a3a" stroke-width="1.2" stroke-linejoin="miter"/>
<text transform="translate(423.67,79.5) scale(1.0,1)" font-size="7.15" fill="#262223" stroke="#262223" stroke-width="0.26" xml:space="preserve">Flint:</text>
<text transform="translate(409.40,90.5) scale(1.07,1)" font-size="9.1" fill="#7a2424" stroke="#7a2424" stroke-width="0.26" xml:space="preserve">8</text>
<text transform="translate(415.71,90.5) scale(1.04,1)" font-size="7.15" fill="#262223" stroke="#262223" stroke-width="0.26" xml:space="preserve"> since 2009</text>
<rect x="472.2" y="42.2" width="68.4" height="57.0" fill="#000" opacity=".22"/>
<rect x="471.0" y="41.0" width="68.4" height="57.0" fill="#fff" stroke="#8a3a3a" stroke-width="1.25"/>
<polygon points="482.0,96.8 482.0,98.0 495.8,156.0 499.0,98.0 499.0,96.8" fill="#fff"/>
<polyline points="482.0,98.0 495.8,156.0 499.0,98.0" fill="none" stroke="#8a3a3a" stroke-width="1.2" stroke-linejoin="miter"/>
<text transform="translate(492.49,51.4) scale(1.0,1)" font-size="7.15" fill="#262223" stroke="#262223" stroke-width="0.26" xml:space="preserve">Detroit:</text>
<text transform="translate(478.46,62.4) scale(1.07,1)" font-size="9.1" fill="#7a2424" stroke="#7a2424" stroke-width="0.26" xml:space="preserve">93</text>
<text transform="translate(490.19,62.4) scale(1.04,1)" font-size="7.15" fill="#262223" stroke="#262223" stroke-width="0.26" xml:space="preserve"> since 2009,</text>
<text transform="translate(486.09,73.4) scale(1.07,1)" font-size="9.1" fill="#7a2424" stroke="#7a2424" stroke-width="0.26" xml:space="preserve">204</text>
<text transform="translate(503.23,73.4) scale(1.04,1)" font-size="7.15" fill="#262223" stroke="#262223" stroke-width="0.26" xml:space="preserve"> since</text>
<text transform="translate(480.53,84.4) scale(1.04,1)" font-size="7.15" fill="#262223" stroke="#262223" stroke-width="0.26" xml:space="preserve">2000, with </text>
<text transform="translate(519.04,84.4) scale(1.07,1)" font-size="9.1" fill="#7a2424" stroke="#7a2424" stroke-width="0.26" xml:space="preserve">28</text>
<text transform="translate(478.96,93.4) scale(1.04,1)" font-size="7.15" fill="#262223" stroke="#262223" stroke-width="0.26" xml:space="preserve">more expected</text>
<rect x="451.2" y="170.6" width="59.0" height="25.2" fill="#000" opacity=".22"/>
<rect x="450.0" y="169.4" width="59.0" height="25.2" fill="#fff" stroke="#8a3a3a" stroke-width="1.25"/>
<polygon points="507.8,185.0 509.0,185.0 519.0,182.0 509.0,192.0 507.8,192.0" fill="#fff"/>
<polyline points="509.0,185.0 519.0,182.0 509.0,192.0" fill="none" stroke="#8a3a3a" stroke-width="1.2" stroke-linejoin="miter"/>
<text transform="translate(467.98,179.4) scale(1.0,1)" font-size="7.15" fill="#262223" stroke="#262223" stroke-width="0.26" xml:space="preserve">Akron:</text>
<text transform="translate(456.50,190.4) scale(1.07,1)" font-size="9.1" fill="#7a2424" stroke="#7a2424" stroke-width="0.26" xml:space="preserve">8</text>
<text transform="translate(462.81,190.4) scale(1.04,1)" font-size="7.15" fill="#262223" stroke="#262223" stroke-width="0.26" xml:space="preserve"> since 2009</text>
<rect x="510.2" y="145.2" width="64.0" height="25.4" fill="#000" opacity=".22"/>
<rect x="509.0" y="144.0" width="64.0" height="25.4" fill="#fff" stroke="#8a3a3a" stroke-width="1.25"/>
<polygon points="519.0,168.2 519.0,169.4 516.0,174.0 536.0,169.4 536.0,168.2" fill="#fff"/>
<polyline points="519.0,169.4 516.0,174.0 536.0,169.4" fill="none" stroke="#8a3a3a" stroke-width="1.2" stroke-linejoin="miter"/>
<text transform="translate(522.92,154.1) scale(1.0,1)" font-size="7.15" fill="#262223" stroke="#262223" stroke-width="0.26" xml:space="preserve">Cleveland:</text>
<text transform="translate(515.29,165.1) scale(1.07,1)" font-size="9.1" fill="#7a2424" stroke="#7a2424" stroke-width="0.26" xml:space="preserve">22</text>
<text transform="translate(527.02,165.1) scale(1.04,1)" font-size="7.15" fill="#262223" stroke="#262223" stroke-width="0.26" xml:space="preserve"> since 2010</text>
<rect x="442.2" y="221.6" width="64.6" height="25.2" fill="#000" opacity=".22"/>
<rect x="441.0" y="220.4" width="64.6" height="25.2" fill="#fff" stroke="#8a3a3a" stroke-width="1.25"/>
<polygon points="479.0,221.6 479.0,220.4 503.6,200.0 495.0,220.4 495.0,221.6" fill="#fff"/>
<polyline points="479.0,220.4 503.6,200.0 495.0,220.4" fill="none" stroke="#8a3a3a" stroke-width="1.2" stroke-linejoin="miter"/>
<text transform="translate(454.63,230.4) scale(1.0,1)" font-size="7.15" fill="#262223" stroke="#262223" stroke-width="0.26" xml:space="preserve">Columbus:</text>
<text transform="translate(447.59,241.4) scale(1.07,1)" font-size="9.1" fill="#7a2424" stroke="#7a2424" stroke-width="0.26" xml:space="preserve">45</text>
<text transform="translate(459.32,241.4) scale(1.04,1)" font-size="7.15" fill="#262223" stroke="#262223" stroke-width="0.26" xml:space="preserve"> since 2005</text>
<rect x="510.6" y="234.2" width="64.2" height="25.6" fill="#000" opacity=".22"/>
<rect x="509.4" y="233.0" width="64.2" height="25.6" fill="#fff" stroke="#8a3a3a" stroke-width="1.25"/>
<polygon points="521.0,234.2 521.0,233.0 538.6,182.6 537.0,233.0 537.0,234.2" fill="#fff"/>
<polyline points="521.0,233.0 538.6,182.6 537.0,233.0" fill="none" stroke="#8a3a3a" stroke-width="1.2" stroke-linejoin="miter"/>
<text transform="translate(522.44,243.2) scale(1.0,1)" font-size="7.15" fill="#262223" stroke="#262223" stroke-width="0.26" xml:space="preserve">Pittsburgh:</text>
<text transform="translate(515.79,254.2) scale(1.07,1)" font-size="9.1" fill="#7a2424" stroke="#7a2424" stroke-width="0.26" xml:space="preserve">41</text>
<text transform="translate(527.52,254.2) scale(1.04,1)" font-size="7.15" fill="#262223" stroke="#262223" stroke-width="0.26" xml:space="preserve"> since 2004</text>
<rect x="544.2" y="84.2" width="54.0" height="55.0" fill="#000" opacity=".22"/>
<rect x="543.0" y="83.0" width="54.0" height="55.0" fill="#fff" stroke="#8a3a3a" stroke-width="1.25"/>
<polygon points="574.0,136.8 574.0,138.0 597.0,162.0 588.0,138.0 588.0,136.8" fill="#fff"/>
<polyline points="574.0,138.0 597.0,162.0 588.0,138.0" fill="none" stroke="#8a3a3a" stroke-width="1.2" stroke-linejoin="miter"/>
<text transform="translate(556.09,93.4) scale(1.0,1)" font-size="7.15" fill="#262223" stroke="#262223" stroke-width="0.26" xml:space="preserve">Newark:</text>
<text transform="translate(553.60,104.4) scale(1.07,1)" font-size="9.1" fill="#7a2424" stroke="#7a2424" stroke-width="0.26" xml:space="preserve">13</text>
<text transform="translate(565.33,104.4) scale(1.04,1)" font-size="7.15" fill="#262223" stroke="#262223" stroke-width="0.26" xml:space="preserve"> since</text>
<text transform="translate(552.23,113.4) scale(1.04,1)" font-size="7.15" fill="#262223" stroke="#262223" stroke-width="0.26" xml:space="preserve">2009, with</text>
<text transform="translate(554.28,124.4) scale(1.07,1)" font-size="9.1" fill="#7a2424" stroke="#7a2424" stroke-width="0.26" xml:space="preserve">11</text>
<text transform="translate(565.47,124.4) scale(1.04,1)" font-size="7.15" fill="#262223" stroke="#262223" stroke-width="0.26" xml:space="preserve"> more</text>
<text transform="translate(553.88,133.4) scale(1.04,1)" font-size="7.15" fill="#262223" stroke="#262223" stroke-width="0.26" xml:space="preserve">expected</text>
<rect x="560.2" y="51.6" width="69.0" height="25.6" fill="#000" opacity=".22"/>
<rect x="559.0" y="50.4" width="69.0" height="25.6" fill="#fff" stroke="#8a3a3a" stroke-width="1.25"/>
<polygon points="599.0,74.8 599.0,76.0 604.0,163.5 615.0,76.0 615.0,74.8" fill="#fff"/>
<polyline points="599.0,76.0 604.0,163.5 615.0,76.0" fill="none" stroke="#8a3a3a" stroke-width="1.2" stroke-linejoin="miter"/>
<text transform="translate(576.35,60.6) scale(1.0,1)" font-size="7.15" fill="#262223" stroke="#262223" stroke-width="0.26" xml:space="preserve">New York:</text>
<text transform="translate(565.09,71.6) scale(1.07,1)" font-size="9.1" fill="#7a2424" stroke="#7a2424" stroke-width="0.26" xml:space="preserve">140</text>
<text transform="translate(582.23,71.6) scale(1.04,1)" font-size="7.15" fill="#262223" stroke="#262223" stroke-width="0.26" xml:space="preserve"> since 2002</text>
<rect x="594.6" y="24.2" width="64.0" height="25.4" fill="#000" opacity=".22"/>
<rect x="593.4" y="23.0" width="64.0" height="25.4" fill="#fff" stroke="#8a3a3a" stroke-width="1.25"/>
<polygon points="628.0,47.2 628.0,48.4 634.0,135.6 646.0,48.4 646.0,47.2" fill="#fff"/>
<polyline points="628.0,48.4 634.0,135.6 646.0,48.4" fill="none" stroke="#8a3a3a" stroke-width="1.2" stroke-linejoin="miter"/>
<text transform="translate(611.90,33.1) scale(1.0,1)" font-size="7.15" fill="#262223" stroke="#262223" stroke-width="0.26" xml:space="preserve">Boston:</text>
<text transform="translate(599.69,44.1) scale(1.07,1)" font-size="9.1" fill="#7a2424" stroke="#7a2424" stroke-width="0.26" xml:space="preserve">18</text>
<text transform="translate(611.42,44.1) scale(1.04,1)" font-size="7.15" fill="#262223" stroke="#262223" stroke-width="0.26" xml:space="preserve"> since 2008</text>
<rect x="601.2" y="170.6" width="58.0" height="29.6" fill="#000" opacity=".22"/>
<rect x="600.0" y="169.4" width="58.0" height="29.6" fill="#fff" stroke="#8a3a3a" stroke-width="1.25"/>
<polygon points="601.2,172.0 600.0,172.0 595.6,181.6 600.0,187.0 601.2,187.0" fill="#fff"/>
<polyline points="600.0,172.0 595.6,181.6 600.0,187.0" fill="none" stroke="#8a3a3a" stroke-width="1.2" stroke-linejoin="miter"/>
<text transform="translate(606.75,177.1) scale(1.0,1)" font-size="7.15" fill="#262223" stroke="#262223" stroke-width="0.26" xml:space="preserve">Philadelphia:</text>
<text transform="translate(612.60,188.1) scale(1.07,1)" font-size="9.1" fill="#7a2424" stroke="#7a2424" stroke-width="0.26" xml:space="preserve">30</text>
<text transform="translate(624.33,188.1) scale(1.04,1)" font-size="7.15" fill="#262223" stroke="#262223" stroke-width="0.26" xml:space="preserve"> since</text>
<text transform="translate(620.73,197.1) scale(1.04,1)" font-size="7.15" fill="#262223" stroke="#262223" stroke-width="0.26" xml:space="preserve">2012</text>
<rect x="594.8" y="208.8" width="64.4" height="46.0" fill="#000" opacity=".22"/>
<rect x="593.6" y="207.6" width="64.4" height="46.0" fill="#fff" stroke="#8a3a3a" stroke-width="1.25"/>
<polygon points="594.8,210.0 593.6,210.0 577.0,195.6 603.6,207.6 603.6,208.8" fill="#fff"/>
<polyline points="593.6,210.0 577.0,195.6 603.6,207.6" fill="none" stroke="#8a3a3a" stroke-width="1.2" stroke-linejoin="miter"/>
<text transform="translate(608.12,218.0) scale(1.0,1)" font-size="7.15" fill="#262223" stroke="#262223" stroke-width="0.26" xml:space="preserve">Baltimore:</text>
<text transform="translate(609.40,229.0) scale(1.07,1)" font-size="9.1" fill="#7a2424" stroke="#7a2424" stroke-width="0.26" xml:space="preserve">26</text>
<text transform="translate(621.13,229.0) scale(1.04,1)" font-size="7.15" fill="#262223" stroke="#262223" stroke-width="0.26" xml:space="preserve"> since</text>
<text transform="translate(601.13,240.0) scale(1.04,1)" font-size="7.15" fill="#262223" stroke="#262223" stroke-width="0.26" xml:space="preserve">2007, with </text>
<text transform="translate(639.64,240.0) scale(1.07,1)" font-size="9.1" fill="#7a2424" stroke="#7a2424" stroke-width="0.26" xml:space="preserve">26</text>
<text transform="translate(599.56,249.0) scale(1.04,1)" font-size="7.15" fill="#262223" stroke="#262223" stroke-width="0.26" xml:space="preserve">more expected</text>
<rect x="566.2" y="265.6" width="72.6" height="25.2" fill="#000" opacity=".22"/>
<rect x="565.0" y="264.4" width="72.6" height="25.2" fill="#fff" stroke="#8a3a3a" stroke-width="1.25"/>
<polygon points="578.0,265.6 578.0,264.4 571.6,198.0 597.0,264.4 597.0,265.6" fill="#fff"/>
<polyline points="578.0,264.4 571.6,198.0 597.0,264.4" fill="none" stroke="#8a3a3a" stroke-width="1.2" stroke-linejoin="miter"/>
<text transform="translate(573.63,274.4) scale(1.0,1)" font-size="7.15" fill="#262223" stroke="#262223" stroke-width="0.26" xml:space="preserve">Washington DC:</text>
<text transform="translate(575.59,285.4) scale(1.07,1)" font-size="9.1" fill="#7a2424" stroke="#7a2424" stroke-width="0.26" xml:space="preserve">39</text>
<text transform="translate(587.32,285.4) scale(1.04,1)" font-size="7.15" fill="#262223" stroke="#262223" stroke-width="0.26" xml:space="preserve"> since 2008</text>
<rect x="523.2" y="297.8" width="64.0" height="25.4" fill="#000" opacity=".22"/>
<rect x="522.0" y="296.6" width="64.0" height="25.4" fill="#fff" stroke="#8a3a3a" stroke-width="1.25"/>
<polygon points="533.0,297.8 533.0,296.6 547.4,263.0 549.0,296.6 549.0,297.8" fill="#fff"/>
<polyline points="533.0,296.6 547.4,263.0 549.0,296.6" fill="none" stroke="#8a3a3a" stroke-width="1.2" stroke-linejoin="miter"/>
<text transform="translate(537.12,306.7) scale(1.0,1)" font-size="7.15" fill="#262223" stroke="#262223" stroke-width="0.26" xml:space="preserve">Charlotte:</text>
<text transform="translate(537.41,317.7) scale(1.07,1)" font-size="9.1" fill="#7a2424" stroke="#7a2424" stroke-width="0.26" xml:space="preserve">8</text>
<text transform="translate(543.72,317.7) scale(1.04,1)" font-size="7.15" fill="#262223" stroke="#262223" stroke-width="0.26" xml:space="preserve"> in 2011</text>
<text x="327" y="10.9" text-anchor="middle" font-weight="normal" font-size="10.2" fill="#333" textLength="42" lengthAdjust="spacingAndGlyphs">Figure 1:</text>
<text x="327.2" y="32" text-anchor="middle" font-size="16.4" fill="#1a1a1a" stroke="#1a1a1a" stroke-width="0.3" textLength="218.5" lengthAdjust="spacingAndGlyphs">Examples of Recent School Closures</text>
<text x="28.6" y="415.7" font-weight="normal" font-size="9" fill="#222" textLength="162" lengthAdjust="spacingAndGlyphs">Sources: News Reports (see endnote 1)</text>
<text x="646.7" y="421" text-anchor="middle" font-family="Liberation Serif, serif" font-weight="normal" font-size="16.5" fill="#111">1</text>
</g>
</svg>
</body></html>
